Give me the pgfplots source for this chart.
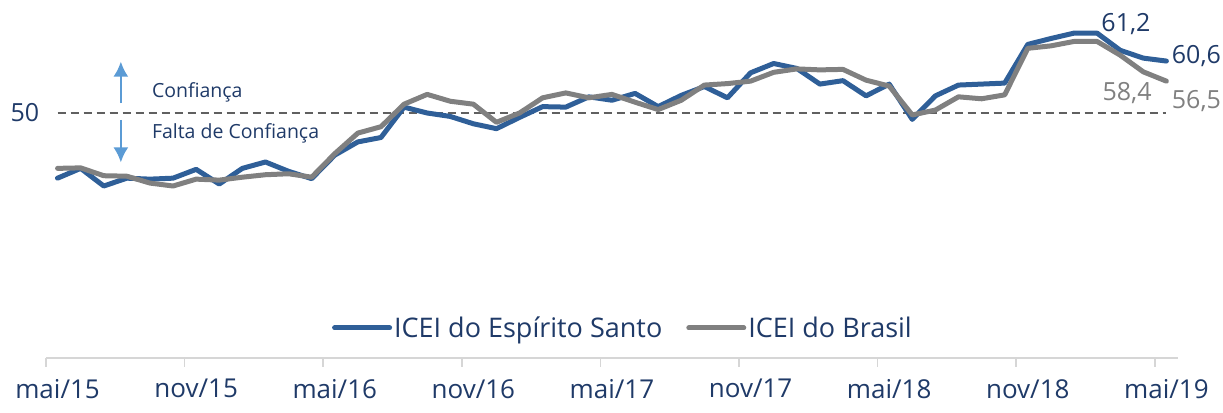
\documentclass[border=0pt]{standalone}
\usepackage{pgfplots}
\pgfplotsset{compat=1.18}
\usetikzlibrary{arrows.meta}
\usepackage{fontspec}
\setmainfont{Open Sans}
\definecolor{esblue}{HTML}{2F5F98}
\definecolor{brgray}{HTML}{808080}
\definecolor{txtblue}{HTML}{1F3A68}
\definecolor{dashgray}{HTML}{606060}
\definecolor{arrblue}{HTML}{5B9BD5}
\definecolor{axgray}{HTML}{D6D6D6}

\pgfplotstableread{
i ES BR
0 36.7 38.7
1 38.7 38.8
2 35.1 37.2
3 36.7 37.1
4 36.5 35.7
5 36.7 35.1
6 38.5 36.5
7 35.5 36.3
8 38.7 36.9
9 40.0 37.4
10 38.1 37.6
11 36.6 36.9
12 41.4 41.7
13 44.1 45.9
14 45.0 47.2
15 51.2 51.8
16 50.0 53.8
17 49.3 52.4
18 47.8 51.8
19 46.8 48.1
20 49.1 50.0
21 51.3 53.1
22 51.2 54.1
23 53.3 53.1
24 52.6 53.8
25 54.0 52.2
26 51.3 50.7
27 53.6 52.6
28 55.4 55.7
29 53.1 56.0
30 58.2 56.5
31 60.1 58.3
32 59.1 59.0
33 55.9 58.8
34 56.6 58.9
35 53.5 56.7
36 55.9 55.5
37 48.7 49.6
38 53.5 50.6
39 55.7 53.3
40 55.9 52.9
41 56.1 53.7
42 64.0 63.2
43 65.2 63.7
44 66.3 64.6
45 66.3 64.6
46 62.8 61.8
47 61.2 58.4
48 60.6 56.5
}\icei

\pgfplotstableread{
i v
0 50
48 50
}\fifty

\begin{document}
\begin{tikzpicture}
\begin{axis}[
  at={(46bp,55bp)}, anchor=south west,
  scale only axis, width=1132bp, height=358bp,
  xmin=-0.5, xmax=48.5, ymin=0, ymax=73.06,
  clip=false,
  axis y line=none,
  axis x line*=bottom,
  x axis line style={draw=axgray, line width=1.5bp, -},
  xtick={0,6,12,18,24,30,36,42,48},
  xticklabels={mai/15,nov/15,mai/16,nov/16,mai/17,nov/17,mai/18,nov/18,mai/19},
  major tick length=0pt,
  extra x ticks={-0.5,5.5,11.5,17.5,23.5,29.5,35.5,41.5,47.5},
  extra x tick labels={},
  extra x tick style={tick align=outside, major tick length=9bp,
    tick style={draw=axgray, line width=1.5bp}},
  xticklabel style={font=\fontsize{26bp}{30bp}\selectfont, text=txtblue, inner sep=0pt, anchor=north, yshift=-21bp},
  legend columns=2,
  legend style={draw=none, fill=none, at={(0.5097,0.0838)}, anchor=center,
    font=\fontsize{27bp}{31bp}\selectfont, text=txtblue,
    /tikz/every even column/.append style={column sep=22bp}},
  legend image code/.code={\draw[#1, line width=5bp, line cap=round] (0bp,0bp) -- (55bp,0bp);},
]
\addplot[dashgray, line width=2.5bp, dash pattern=on 8bp off 5bp, forget plot] table[x=i, y=v] {\fifty};
\addplot[esblue, line width=5bp, line join=round, line cap=round] table[x=i, y=ES] {\icei};
\addplot[brgray, line width=5bp, line join=round, line cap=round] table[x=i, y=BR] {\icei};
\legend{ICEI do Espírito Santo, ICEI do Brasil}
\node[text=txtblue, font=\fontsize{25bp}{29bp}\selectfont] at (axis cs:-1.41,50) {50};
\node[text=txtblue, font=\fontsize{25bp}{29bp}\selectfont] at (axis cs:46.25,68.2) {61,2};
\node[text=txtblue, font=\fontsize{25bp}{29bp}\selectfont] at (axis cs:49.3,61.6) {60,6};
\node[text=brgray, font=\fontsize{25bp}{29bp}\selectfont] at (axis cs:46.3,54.1) {58,4};
\node[text=brgray, font=\fontsize{25bp}{29bp}\selectfont] at (axis cs:49.3,52.4) {56,5};
\draw[arrblue, line width=2.5bp, -{Latex[length=15bp,width=15bp]}] (axis cs:2.74,52.0) -- (axis cs:2.74,60.5);
\draw[arrblue, line width=2.5bp, -{Latex[length=15bp,width=15bp]}] (axis cs:2.74,48.6) -- (axis cs:2.74,39.9);
\node[text=txtblue, anchor=west, inner sep=0pt, font=\fontsize{19.5bp}{23bp}\selectfont] at (axis cs:4.08,54.3) {Confiança};
\node[text=txtblue, anchor=west, inner sep=0pt, font=\fontsize{19.5bp}{23bp}\selectfont] at (axis cs:4.08,45.9) {Falta de Confiança};
\end{axis}
\pgfresetboundingbox
\path[use as bounding box] (0,0) rectangle (1223bp,413bp);
\end{tikzpicture}
\end{document}
